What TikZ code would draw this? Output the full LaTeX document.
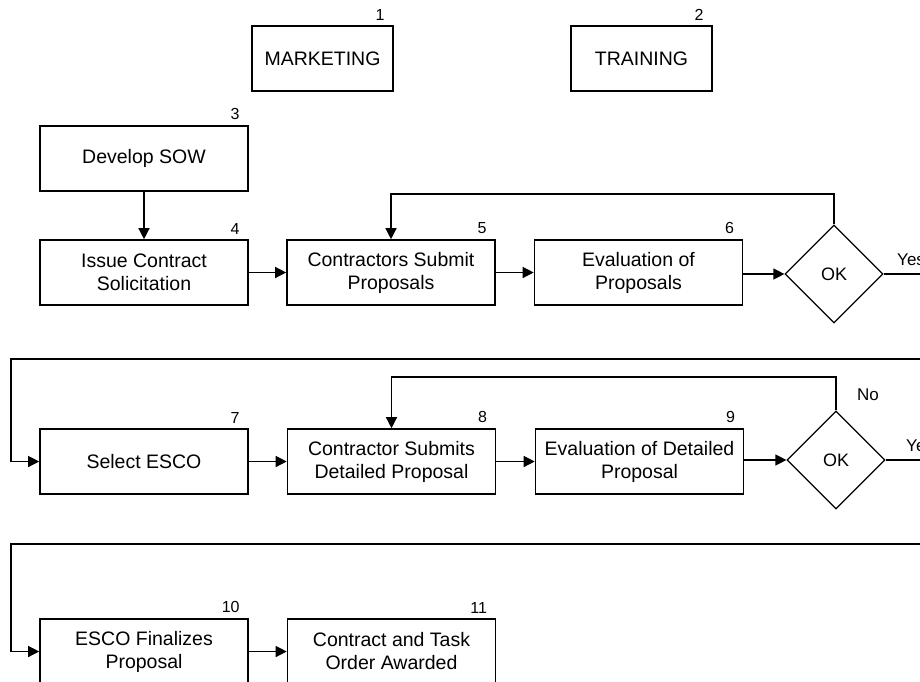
\documentclass[tikz,border=0pt]{standalone}
\usepackage{fontspec}
\setmainfont{Liberation Sans}
\usetikzlibrary{arrows.meta,shapes.geometric}
\begin{document}
\begin{tikzpicture}[x=1pt,y=-1pt,
  stepbox/.style={draw, line width=1.6pt, minimum width=208pt, minimum height=65pt,
    inner sep=0pt, align=center, font=\fontsize{19.5}{23}\selectfont},
  topbox/.style={stepbox, minimum width=141pt},
  decision/.style={draw, diamond, aspect=1, line width=1.2pt, minimum width=98pt,
    minimum height=98pt, inner sep=0pt, font=\fontsize{18}{21}\selectfont},
  num/.style={anchor=south east, inner sep=0pt, font=\fontsize{16}{18}\selectfont},
  lbl/.style={anchor=base west, inner sep=0pt, font=\fontsize{17}{20}\selectfont},
  conn/.style={line width=1.3pt},
  arr/.style={conn, -{Triangle[length=11pt,width=11pt]}}
]
\useasboundingbox (0,0) rectangle (920,681);
\clip (0,0) rectangle (920,681);
\fill[white] (0,0) rectangle (920,681);

% boxes
\node[topbox] (b1) at (322.5,58.5) {MARKETING};
\node[topbox] (b2) at (641.5,58.5) {TRAINING};
\node[stepbox] (b3) at (144,158.5) {Develop SOW};
\node[stepbox] (b4) at (144,272.5) {Issue Contract\\Solicitation};
\node[stepbox] (b5) at (391,272.5) {Contractors Submit\\Proposals};
\node[stepbox] (b6) at (638.5,272.5) {Evaluation of\\Proposals};
\node[decision] (ok1) at (834,274) {OK};
\node[stepbox] (b7) at (144,461.5) {Select ESCO};
\node[stepbox] (b8) at (391.5,461.5) {Contractor Submits\\Detailed Proposal};
\node[stepbox] (b9) at (639.5,461.5) {Evaluation of Detailed\\Proposal};
\node[decision] (ok2) at (836,460) {OK};
\node[stepbox] (b10) at (144,651.5) {ESCO Finalizes\\Proposal};
\node[stepbox] (b11) at (391.5,651.5) {Contract and Task\\Order Awarded};

% numbers
\foreach \b/\n in {b1/1,b2/2,b3/3,b4/4,b5/5,b6/6,b7/7,b8/8,b9/9,b10/10,b11/11}
  \node[num] (n\n) at ([xshift=-9pt,yshift=5pt]\b.north east) {\n};

% labels
\node[lbl] (yes1) at (897,265) {Yes};
\node[lbl] (no2) at (857,400) {No};
\node[lbl] (yes2) at (906,451) {Yes};

% helper coordinates
\coordinate (fb1) at (0,194);
\coordinate (fb2) at (0,377);
\coordinate (east) at (945,0);
\coordinate (row2) at (11,359);
\coordinate (row3) at (11,544);

% connectors
\draw[arr] (b3.south) -- (b4.north);
\draw[arr] (b4.east) -- (b4.east -| b5.west);
\draw[arr] (b5.east) -- (b5.east -| b6.west);
\draw[arr] (b6.east |- ok1.west) -- (ok1.west);
\draw[arr] (ok1.north) -- (ok1.north |- fb1) -| (b5.north);
\draw[arr] (ok1.east) -- (ok1.east -| east) |- (row2) |- (b7.west);

\draw[arr] (b7.east) -- (b7.east -| b8.west);
\draw[arr] (b8.east) -- (b8.east -| b9.west);
\draw[arr] (b9.east |- ok2.west) -- (ok2.west);
\draw[arr] (ok2.north) -- (ok2.north |- fb2) -| (b8.north);
\draw[arr] (ok2.east) -- (ok2.east -| east) |- (row3) |- (b10.west);

\draw[arr] (b10.east) -- (b10.east -| b11.west);
\end{tikzpicture}
\end{document}
